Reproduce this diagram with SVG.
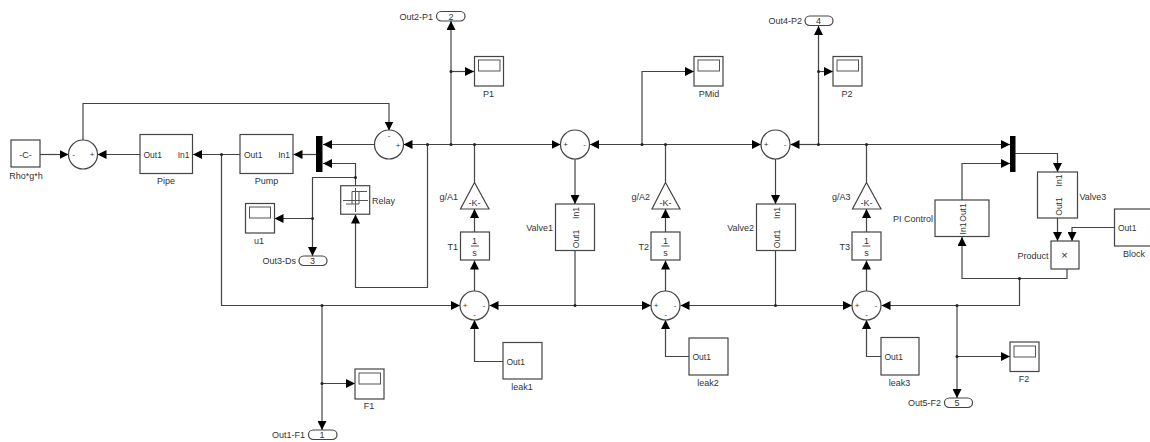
<svg xmlns="http://www.w3.org/2000/svg" width="1150" height="442" viewBox="0 0 1150 442">
<style>
.b{fill:#fff;stroke:#444;stroke-width:1.2}
.c{fill:none;stroke:#444;stroke-width:1.2}
.g{fill:none;stroke:#555;stroke-width:1}
.a{marker-end:url(#arr)}
.d{fill:#222}
.m{fill:#000}
text{font-family:"Liberation Sans",Arial,sans-serif;font-size:9px;fill:#333}
.i{font-size:8.500px}
.mid{text-anchor:middle}
.end{text-anchor:end}
.s{font-size:8px;text-anchor:middle}
</style>
<defs>
<marker id="arr" viewBox="0 0 9 9" refX="9" refY="4.5" markerWidth="9" markerHeight="9" markerUnits="userSpaceOnUse" orient="auto"><path d="M0 0L9 4.5L0 9z" fill="#000"/></marker>
</defs>
<rect width="1150" height="442" fill="#fff"/>
<g id="connectors">
<path class="c a" d="M40 154.500H68.500"/>
<path class="c a" d="M140 154.500H97.500"/>
<path class="c a" d="M83 140V103.500H389V130.500"/>
<path class="c a" d="M240 154.500H193"/>
<path class="c a" d="M221.500 154.500V305.500H460"/>
<path class="c a" d="M316 154.500H293.500"/>
<path class="c a" d="M374.500 144.500H323"/>
<path class="c a" d="M355.500 185.500V163.500H323"/>
<path class="c a" d="M355.500 177.500H312.500V256"/>
<path class="c a" d="M312.500 218.500H274.500"/>
<path class="c a" d="M427.500 144.500V287.500H355.500V214.500"/>
<path class="c a" d="M451 144.500H403.500"/>
<path class="c a" d="M451 144.500H560.500"/>
<path class="c a" d="M451 144.500V21"/>
<path class="c a" d="M451 71.500H474"/>
<path class="c" d="M474.500 182.500V144.500"/>
<path class="c a" d="M474.500 232V209"/>
<path class="c a" d="M474.500 291.500V260.500"/>
<path class="c a" d="M503 361.500H474.500V320"/>
<path class="c a" d="M575 159V204"/>
<path class="c a" d="M642 144.500H590"/>
<path class="c a" d="M642 144.500V71.500H694"/>
<path class="c a" d="M642 144.500H761"/>
<path class="c" d="M665.500 182.500V144.500"/>
<path class="c a" d="M665.500 232V209"/>
<path class="c a" d="M665.500 291.500V260.500"/>
<path class="c a" d="M689 356.500H665.500V320"/>
<path class="c a" d="M575 250.500V305.500H489.500"/>
<path class="c a" d="M575 305.500H651"/>
<path class="c a" d="M775.500 159V204"/>
<path class="c a" d="M775.500 250.500V305.500H680.500"/>
<path class="c a" d="M775.500 305.500H852"/>
<path class="c a" d="M818.500 144.500H790.500"/>
<path class="c a" d="M818.500 144.500V26"/>
<path class="c a" d="M818.500 71.500H833"/>
<path class="c a" d="M818.500 144.500H1010"/>
<path class="c" d="M866.500 182.500V144.500"/>
<path class="c a" d="M866.500 232V209"/>
<path class="c a" d="M866.500 291.500V260.500"/>
<path class="c a" d="M881 356.500H866.500V320"/>
<path class="c a" d="M1015 153.500H1057.500V172"/>
<path class="c a" d="M962 200V163.500H1010"/>
<path class="c a" d="M1057.500 218V241"/>
<path class="c a" d="M1114.500 227.500H1072V241"/>
<path class="c a" d="M1067 269V278.500H962V237"/>
<path class="c a" d="M1019.500 278.500V305.500H881.500"/>
<path class="c a" d="M957 305.500V398"/>
<path class="c a" d="M957 356.500H1010"/>
<path class="c a" d="M322 305.500V430"/>
<path class="c a" d="M322 383.500H355"/>
<g>
<circle class="d" cx="221.500" cy="154.500" r="1.500"/>
<circle class="d" cx="355.500" cy="177.500" r="1.500"/>
<circle class="d" cx="312.500" cy="218.500" r="1.500"/>
<circle class="d" cx="427.500" cy="144.500" r="1.500"/>
<circle class="d" cx="451" cy="144.500" r="1.500"/>
<circle class="d" cx="451" cy="71.500" r="1.500"/>
<circle class="d" cx="474.500" cy="144.500" r="1.500"/>
<circle class="d" cx="642" cy="144.500" r="1.500"/>
<circle class="d" cx="665.500" cy="144.500" r="1.500"/>
<circle class="d" cx="818.500" cy="144.500" r="1.500"/>
<circle class="d" cx="818.500" cy="71.500" r="1.500"/>
<circle class="d" cx="866.500" cy="144.500" r="1.500"/>
<circle class="d" cx="322" cy="305.500" r="1.500"/>
<circle class="d" cx="322" cy="383.500" r="1.500"/>
<circle class="d" cx="575" cy="305.500" r="1.500"/>
<circle class="d" cx="775.500" cy="305.500" r="1.500"/>
<circle class="d" cx="957" cy="305.500" r="1.500"/>
<circle class="d" cx="957" cy="356.500" r="1.500"/>
<circle class="d" cx="1019.500" cy="278.500" r="1.500"/>
</g>
</g>
<g id="rho"><rect class="b" x="11" y="140" width="29" height="27"/><text class="mid" x="25.500" y="157.500">-C-</text><text class="mid" x="26" y="179">Rho*g*h</text></g>
<g id="sum1"><circle class="b" cx="83" cy="154.500" r="14.500"/><text class="s" x="73.500" y="157">-</text><text class="s" x="92" y="157">+</text></g>
<g id="pipe"><rect class="b" x="140" y="134.500" width="52.500" height="39"/><text class="i" x="143.500" y="157.500">Out1</text><text class="i end" x="189.500" y="157.500">In1</text><text class="mid" x="166" y="184">Pipe</text></g>
<g id="pump"><rect class="b" x="240" y="134.500" width="53" height="39"/><text class="i" x="244" y="157.500">Out1</text><text class="i end" x="290" y="157.500">In1</text><text class="mid" x="266.500" y="184">Pump</text></g>
<g id="mux1"><rect class="m" x="316" y="136" width="6.500" height="36"/></g>
<g id="mux2"><rect class="m" x="1010" y="136" width="5.500" height="36"/></g>
<g id="sum2"><circle class="b" cx="389" cy="144.500" r="14.500"/><text class="s" x="389" y="138">-</text><text class="s" x="398" y="147.500">+</text></g>
<g id="relay"><rect class="b" x="340.700" y="185.700" width="29" height="28.500"/><path class="g" d="M343 200.500H368M355.500 188V212M346 204H359V191.500H352V204M359 191.500H367"/><text x="372" y="204">Relay</text></g>
<g id="u1"><rect class="b" x="245.500" y="203.500" width="29" height="29.500"/><rect class="g" x="249.500" y="207" width="21" height="11"/><text class="mid" x="259" y="244">u1</text></g>
<g id="out3"><rect class="b" x="299" y="256" width="28" height="9.500" rx="4.700"/><text class="mid" x="312.500" y="264">3</text><text class="end" x="296" y="264">Out3-Ds</text></g>
<g id="out2"><rect class="b" x="436.500" y="11.500" width="28.500" height="9.500" rx="4.700"/><text class="mid" x="451" y="19.500">2</text><text class="end" x="433" y="19.500">Out2-P1</text></g>
<g id="p1"><rect class="b" x="474.500" y="56.500" width="29" height="29.500"/><rect class="g" x="478.500" y="60" width="21.500" height="11"/><text class="mid" x="488.500" y="97">P1</text></g>
<g id="pmid"><rect class="b" x="694" y="56.500" width="29" height="29.500"/><rect class="g" x="698" y="60" width="21.500" height="11"/><text class="mid" x="709" y="97">PMid</text></g>
<g id="p2"><rect class="b" x="833" y="56.500" width="29" height="29.500"/><rect class="g" x="837" y="60" width="21.500" height="11"/><text class="mid" x="847" y="97">P2</text></g>
<g id="out4"><rect class="b" x="805" y="16" width="28" height="9.500" rx="4.700"/><text class="mid" x="818.500" y="24">4</text><text class="end" x="802" y="24">Out4-P2</text></g>
<g id="sumA"><circle class="b" cx="575" cy="144.500" r="14.500"/><text class="s" x="565.500" y="147">+</text><text class="s" x="584.500" y="147">-</text></g>
<g id="sumB"><circle class="b" cx="775.500" cy="144.500" r="14.500"/><text class="s" x="766" y="147">+</text><text class="s" x="785" y="147">-</text></g>
<g id="gA1"><path class="b" d="M474.500 182.500L489 209H460.500Z"/><text class="mid" x="474.500" y="205.500">-K-</text><text class="end" x="458" y="200">g/A1</text></g>
<g id="gA2"><path class="b" d="M665.500 182.500L680 209H652Z"/><text class="mid" x="665.500" y="205.500">-K-</text><text class="end" x="650" y="200">g/A2</text></g>
<g id="gA3"><path class="b" d="M866.500 182.500L881 209H852.500Z"/><text class="mid" x="866.500" y="205.500">-K-</text><text class="end" x="850.500" y="200">g/A3</text></g>
<g id="t1"><rect class="b" x="460.500" y="232" width="29" height="28"/><path class="g" d="M471 246H479"/><text class="mid" x="474.500" y="243.500">1</text><text class="mid" x="474.500" y="255.500">s</text><text class="end" x="458" y="250">T1</text></g>
<g id="t2"><rect class="b" x="651" y="232" width="29" height="28"/><path class="g" d="M661.500 246H669.500"/><text class="mid" x="665.500" y="243.500">1</text><text class="mid" x="665.500" y="255.500">s</text><text class="end" x="649" y="250">T2</text></g>
<g id="t3"><rect class="b" x="852" y="232" width="29" height="28"/><path class="g" d="M862.500 246H870.500"/><text class="mid" x="866.500" y="243.500">1</text><text class="mid" x="866.500" y="255.500">s</text><text class="end" x="850" y="250">T3</text></g>
<g id="valve1"><rect class="b" x="555.500" y="204" width="39" height="46.500"/><text class="i mid" transform="translate(579 213) rotate(-90)">In1</text><text class="i mid" transform="translate(579 239) rotate(-90)">Out1</text><text class="end" x="553" y="231">Valve1</text></g>
<g id="valve2"><rect class="b" x="756.500" y="204" width="39" height="46.500"/><text class="i mid" transform="translate(779.500 213) rotate(-90)">In1</text><text class="i mid" transform="translate(779.500 239) rotate(-90)">Out1</text><text class="end" x="754" y="231">Valve2</text></g>
<g id="valve3"><rect class="b" x="1037.500" y="172" width="40" height="46"/><text class="i mid" transform="translate(1061.500 180.500) rotate(-90)">In1</text><text class="i mid" transform="translate(1061.500 206.500) rotate(-90)">Out1</text><text x="1079.500" y="199.500">Valve3</text></g>
<g id="sum3"><circle class="b" cx="474.500" cy="305.500" r="14.500"/><text class="s" x="465" y="308">+</text><text class="s" x="484" y="308">-</text><text class="s" x="474.500" y="317">-</text></g>
<g id="sum4"><circle class="b" cx="665.500" cy="305.500" r="14.500"/><text class="s" x="656" y="308">+</text><text class="s" x="675" y="308">-</text><text class="s" x="665.500" y="317">-</text></g>
<g id="sum5"><circle class="b" cx="866.500" cy="305.500" r="14.500"/><text class="s" x="857" y="308">+</text><text class="s" x="876" y="308">-</text><text class="s" x="866.500" y="317">-</text></g>
<g id="leak1"><rect class="b" x="503" y="342.500" width="39" height="36.500"/><text class="i" x="506.500" y="364.500">Out1</text><text class="mid" x="522" y="390">leak1</text></g>
<g id="leak2"><rect class="b" x="689" y="338" width="39" height="37"/><text class="i" x="692.500" y="360">Out1</text><text class="mid" x="708" y="385.500">leak2</text></g>
<g id="leak3"><rect class="b" x="881" y="337.500" width="38" height="37.500"/><text class="i" x="884.500" y="360">Out1</text><text class="mid" x="899.500" y="385.500">leak3</text></g>
<g id="pi"><rect class="b" x="935" y="200" width="54" height="36.500"/><text class="i mid" transform="translate(966 228.500) rotate(-90)">In1</text><text class="i mid" transform="translate(966 212.500) rotate(-90)">Out1</text><text class="end" x="933" y="222">PI Control</text></g>
<g id="product"><rect class="b" x="1051" y="241" width="28" height="28"/><text class="mid" x="1064.500" y="259" style="font-size:11px">×</text><text class="end" x="1048.500" y="259">Product</text></g>
<g id="block"><rect class="b" x="1114.500" y="209" width="38" height="37"/><text class="i" x="1118" y="231">Out1</text><text class="mid" x="1134" y="257">Block</text></g>
<g id="f1"><rect class="b" x="355" y="369" width="29" height="30"/><rect class="g" x="359" y="373" width="21.500" height="11"/><text class="mid" x="369" y="409">F1</text></g>
<g id="f2"><rect class="b" x="1010" y="342" width="29" height="29.500"/><rect class="g" x="1014" y="346" width="21.500" height="11"/><text class="mid" x="1024" y="382">F2</text></g>
<g id="out1"><rect class="b" x="308.500" y="430" width="28.500" height="9.500" rx="4.700"/><text class="mid" x="322" y="438">1</text><text class="end" x="305" y="438">Out1-F1</text></g>
<g id="out5"><rect class="b" x="944.500" y="398" width="28" height="9.500" rx="4.700"/><text class="mid" x="957" y="406">5</text><text class="end" x="941" y="406">Out5-F2</text></g>
</svg>
